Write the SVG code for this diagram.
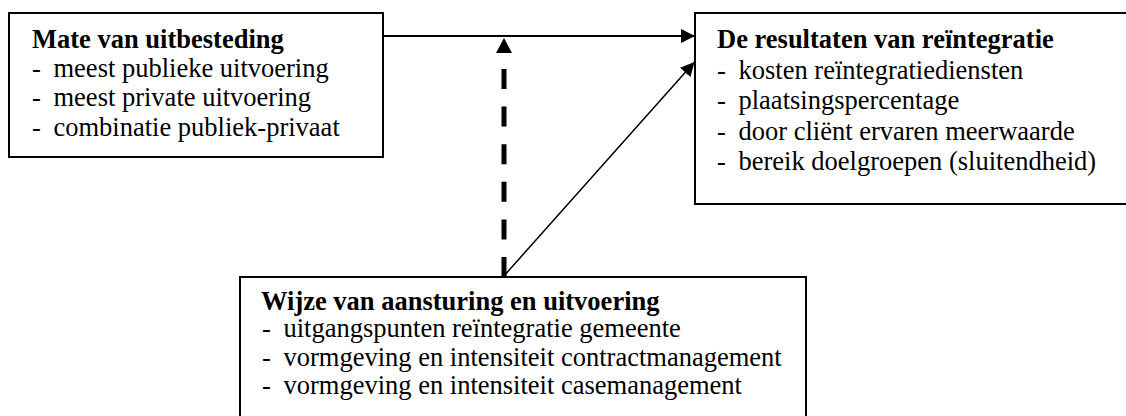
<svg xmlns="http://www.w3.org/2000/svg" width="1126" height="416" viewBox="0 0 1126 416">
<style>
.box{fill:#fff;stroke:#000;stroke-width:2}
text,tspan{font-family:"Liberation Serif","Times New Roman",serif;font-size:26.5px;fill:#000}
.t{font-weight:bold}
.c{fill:none;stroke:#000}
</style>
<defs>
<marker id="ah" viewBox="0 0 14 14" refX="14" refY="7" markerWidth="14" markerHeight="14" markerUnits="userSpaceOnUse" orient="auto">
<path d="M0,0 L14,7 L0,14 Z" fill="#000"/>
</marker>
</defs>
<rect width="1126" height="416" fill="#fff"/>
<g id="node-uitbesteding" font-family="Liberation Serif, serif">
<rect class="box" x="9" y="13" width="374" height="144"/>
<text class="t" x="32" y="47.5">Mate van uitbesteding</text>
<text y="77"><tspan x="32">-</tspan><tspan x="53.5">meest publieke uitvoering</tspan></text>
<text y="106"><tspan x="32">-</tspan><tspan x="53.5">meest private uitvoering</tspan></text>
<text y="135.5"><tspan x="32">-</tspan><tspan x="53.5">combinatie publiek-privaat</tspan></text>
</g>
<g id="node-resultaten" font-family="Liberation Serif, serif">
<rect class="box" x="695" y="13" width="440" height="191"/>
<text class="t" x="717" y="47.5">De resultaten van reïntegratie</text>
<text y="78.5"><tspan x="717">-</tspan><tspan x="738.5">kosten reïntegratiediensten</tspan></text>
<text y="109"><tspan x="717">-</tspan><tspan x="738.5">plaatsingspercentage</tspan></text>
<text y="139.5"><tspan x="717">-</tspan><tspan x="738.5">door cliënt ervaren meerwaarde</tspan></text>
<text y="170"><tspan x="717">-</tspan><tspan x="738.5">bereik doelgroepen (sluitendheid)</tspan></text>
</g>
<g id="node-aansturing" font-family="Liberation Serif, serif">
<rect class="box" x="240" y="277" width="566" height="160"/>
<text class="t" x="261" y="309.5">Wijze van aansturing en uitvoering</text>
<text y="337"><tspan x="262">-</tspan><tspan x="283.5">uitgangspunten reïntegratie gemeente</tspan></text>
<text y="365.5"><tspan x="262">-</tspan><tspan x="283.5">vormgeving en intensiteit contractmanagement</tspan></text>
<text y="394"><tspan x="262">-</tspan><tspan x="283.5">vormgeving en intensiteit casemanagement</tspan></text>
</g>
<g id="connectors">
<line class="c" x1="383" y1="36" x2="695" y2="36" stroke-width="2" marker-end="url(#ah)"/>
<line class="c" x1="503" y1="277" x2="694.5" y2="62" stroke-width="1.5" marker-end="url(#ah)"/>
<line class="c" x1="504" y1="277" x2="504" y2="69" stroke-width="5" stroke-dasharray="20 17.6"/>
<path d="M504,38 L512,53 L496,53 Z" fill="#000"/>
</g>
</svg>
